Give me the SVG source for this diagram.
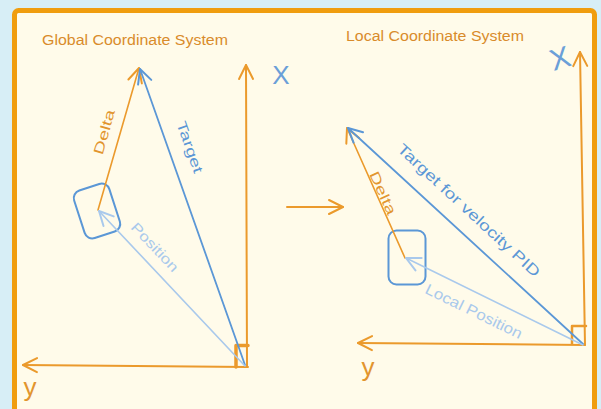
<svg xmlns="http://www.w3.org/2000/svg" width="601" height="409" viewBox="0 0 601 409">
  <style>
    .o { stroke: #eb9a2c; fill: none; stroke-linecap: round; stroke-linejoin: round; }
    .b { stroke: #5b97d6; fill: none; stroke-linecap: round; stroke-linejoin: round; }
    .lb { stroke: #a9c9ec; fill: none; stroke-linecap: round; stroke-linejoin: round; }
    .title { font-family: "Liberation Sans", "DejaVu Sans", sans-serif; font-size: 14px; fill: #d98b2b; }
    .lbl { font-family: "Liberation Sans", "DejaVu Sans", sans-serif; font-size: 14px; text-anchor: middle; dominant-baseline: central; }
    .big { font-size: 26px; }
    .mid { font-size: 15px; }
  </style>
  <defs>
    <marker id="ao" markerUnits="userSpaceOnUse" markerWidth="20" markerHeight="20" viewBox="0 0 20 20" refX="17" refY="10" orient="auto">
      <path d="M3,3 L17,10 L3,17" fill="none" stroke="#eb9a2c" stroke-width="2" stroke-linecap="round" stroke-linejoin="round"/>
    </marker>
    <marker id="ab" markerUnits="userSpaceOnUse" markerWidth="20" markerHeight="20" viewBox="0 0 20 20" refX="17" refY="10" orient="auto">
      <path d="M3,3 L17,10 L3,17" fill="none" stroke="#5b97d6" stroke-width="2" stroke-linecap="round" stroke-linejoin="round"/>
    </marker>
    <marker id="alb" markerUnits="userSpaceOnUse" markerWidth="20" markerHeight="20" viewBox="0 0 20 20" refX="17" refY="10" orient="auto">
      <path d="M3,3 L17,10 L3,17" fill="none" stroke="#a9c9ec" stroke-width="2" stroke-linecap="round" stroke-linejoin="round"/>
    </marker>
  </defs>

  <rect x="0" y="0" width="601" height="409" fill="#d7eef6"/>
  <rect id="panel" x="14.5" y="10.5" width="580" height="420" rx="4" fill="#fffbea" stroke="#f09d0e" stroke-width="5"/>

  <g id="titles">
    <text class="title" x="42" y="45" textLength="186" lengthAdjust="spacingAndGlyphs">Global Coordinate System</text>
    <text class="title" x="346" y="41" textLength="178" lengthAdjust="spacingAndGlyphs">Local Coordinate System</text>
  </g>

  <g id="robot-global">
    <rect x="78.5" y="186" width="37" height="50" rx="8" transform="rotate(-18 97 211)" class="b" stroke-width="2"/>
  </g>
  <g id="robot-local">
    <rect x="388.5" y="230.5" width="37" height="54" rx="8" class="b" stroke-width="2"/>
  </g>

  <g id="corner-marks">
    <path class="o" d="M236,367 V345.5 H248" stroke-width="3.5"/>
    <path class="o" d="M572,344 V326 H586" stroke-width="2.5"/>
  </g>

  <g id="connectors">
    <path class="o" d="M247,367 L246,65" stroke-width="2" marker-end="url(#ao)"/>
    <path class="o" d="M248,367 L23,365" stroke-width="2" marker-end="url(#ao)"/>
    <path class="o" d="M98,210 L139,68" stroke-width="1.6" marker-end="url(#ao)"/>
    <path class="b" d="M245,365 L140,69" stroke-width="1.8" marker-end="url(#ab)"/>
    <path class="lb" d="M245,366 L99,211" stroke-width="1.6" marker-end="url(#alb)"/>
    <path class="o" d="M287,207 L343,207" stroke-width="2" marker-end="url(#ao)"/>
    <path class="o" d="M585,345 L580,52" stroke-width="2" marker-end="url(#ao)"/>
    <path class="o" d="M585,345 L358,343" stroke-width="2" marker-end="url(#ao)"/>
    <path class="o" d="M405,258 L347,128" stroke-width="1.6" marker-end="url(#ao)"/>
    <path class="b" d="M583,344 L348,128" stroke-width="1.8" marker-end="url(#ab)"/>
    <path class="lb" d="M583,345 L406,258" stroke-width="1.6" marker-end="url(#alb)"/>
  </g>

  <g id="labels">
    <text class="lbl" fill="#e2952e" transform="translate(104,132) rotate(-74)" textLength="46" lengthAdjust="spacingAndGlyphs">Delta</text>
    <text class="lbl" fill="#5b97d6" transform="translate(190,147) rotate(70.6)" textLength="54" lengthAdjust="spacingAndGlyphs">Target</text>
    <text class="lbl" fill="#a9c9ec" transform="translate(155,247) rotate(46.5)" textLength="62" lengthAdjust="spacingAndGlyphs">Position</text>
    <text class="lbl" fill="#e2952e" transform="translate(383,193) rotate(65.6)" textLength="46" lengthAdjust="spacingAndGlyphs">Delta</text>
    <text class="lbl mid" fill="#5b97d6" transform="translate(469,210) rotate(42.7)" textLength="188" lengthAdjust="spacingAndGlyphs">Target for velocity PID</text>
    <text class="lbl mid" fill="#a9c9ec" transform="translate(474,311) rotate(26)" textLength="106" lengthAdjust="spacingAndGlyphs">Local Position</text>
    <text class="lbl big" fill="#6b9fd8" transform="translate(281,75)">X</text>
    <text class="lbl big" fill="#6b9fd8" transform="translate(560,58) rotate(-17)" style="font-size:30px">X</text>
    <text class="lbl big" fill="#e2952e" transform="translate(30,387)">y</text>
    <text class="lbl big" fill="#e2952e" transform="translate(368,367)">y</text>
  </g>
</svg>
